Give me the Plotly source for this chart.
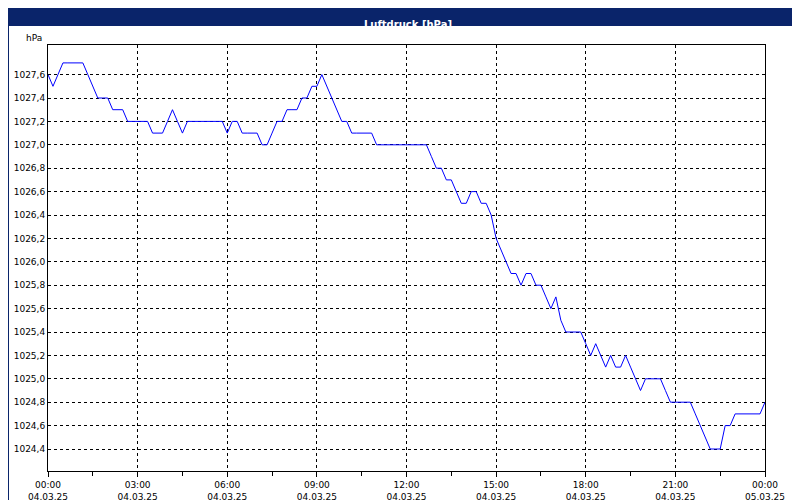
import pandas as pd
import plotly.graph_objects as go

# Luftdruck values, one reading every 10 minutes
times = pd.date_range("2025-03-04 00:00", periods=145, freq="10min")
pressure = [
    1027.6, 1027.5, 1027.6, 1027.7, 1027.7, 1027.7, 1027.7, 1027.7, 1027.6, 1027.5,
    1027.4, 1027.4, 1027.4, 1027.3, 1027.3, 1027.3, 1027.2, 1027.2, 1027.2, 1027.2,
    1027.2, 1027.1, 1027.1, 1027.1, 1027.2, 1027.3, 1027.2, 1027.1, 1027.2, 1027.2,
    1027.2, 1027.2, 1027.2, 1027.2, 1027.2, 1027.2, 1027.1, 1027.2, 1027.2, 1027.1,
    1027.1, 1027.1, 1027.1, 1027.0, 1027.0, 1027.1, 1027.2, 1027.2, 1027.3, 1027.3,
    1027.3, 1027.4, 1027.4, 1027.5, 1027.5, 1027.6, 1027.5, 1027.4, 1027.3, 1027.2,
    1027.2, 1027.1, 1027.1, 1027.1, 1027.1, 1027.1, 1027.0, 1027.0, 1027.0, 1027.0,
    1027.0, 1027.0, 1027.0, 1027.0, 1027.0, 1027.0, 1027.0, 1026.9, 1026.8, 1026.8,
    1026.7, 1026.7, 1026.6, 1026.5, 1026.5, 1026.6, 1026.6, 1026.5, 1026.5, 1026.4,
    1026.2, 1026.1, 1026.0, 1025.9, 1025.9, 1025.8, 1025.9, 1025.9, 1025.8, 1025.8,
    1025.7, 1025.6, 1025.7, 1025.5, 1025.4, 1025.4, 1025.4, 1025.4, 1025.3, 1025.2,
    1025.3, 1025.2, 1025.1, 1025.2, 1025.1, 1025.1, 1025.2, 1025.1, 1025.0, 1024.9,
    1025.0, 1025.0, 1025.0, 1025.0, 1024.9, 1024.8, 1024.8, 1024.8, 1024.8, 1024.8,
    1024.7, 1024.6, 1024.5, 1024.4, 1024.4, 1024.4, 1024.6, 1024.6, 1024.7, 1024.7,
    1024.7, 1024.7, 1024.7, 1024.7, 1024.8,
]

tick_times = pd.date_range("2025-03-04 00:00", periods=9, freq="3h")
tick_text = [t.strftime("%H:%M") + "<br>" + t.strftime("%d.%m.%y") for t in tick_times]
y_ticks = [round(1024.4 + 0.2 * i, 1) for i in range(17)]

fig = go.Figure()
fig.add_trace(go.Scatter(x=times, y=pressure, mode="lines",
                         line=dict(color="#0000ff", width=1), showlegend=False))

navy = "#0a246a"
fig.update_layout(
    width=800, height=500,
    margin=dict(l=40, r=43, t=37, b=37, autoexpand=False),
    paper_bgcolor="white", plot_bgcolor="white",
    separators=",.",
    font=dict(family="DejaVu Sans", size=9, color="black"),
    xaxis=dict(
        range=[tick_times[0], tick_times[-1]],
        tickvals=tick_times, ticktext=tick_text, automargin=False,
        ticks="outside", ticklen=5, tickcolor="black",
        minor=dict(dtick=5400000, ticks="outside", ticklen=4, tickcolor="black", showgrid=False),
        showgrid=True, gridcolor="black", griddash="3px,3px", gridwidth=1,
        showline=True, linecolor="black", mirror=True, zeroline=False,
    ),
    yaxis=dict(
        range=[1024.212, 1027.853], automargin=False,
        tickvals=y_ticks, tickformat=".1f",
        ticks="", showgrid=True, gridcolor="black", griddash="3px,3px", gridwidth=1,
        showline=True, linecolor="black", mirror=True, zeroline=False,
    ),
    shapes=[
        dict(type="rect", xref="paper", yref="paper", x0=-40 / 717, x1=760 / 717,
             y0=1.0446, y1=1.09, fillcolor=navy, line=dict(width=0), layer="below"),
        dict(type="rect", xref="paper", yref="paper", x0=-39.5 / 717, x1=759.5 / 717,
             y0=-36.5 / 426, y1=1.09, line=dict(color=navy, width=1)),
    ],
    annotations=[
        dict(text="<b>Luftdruck [hPa]</b>", xref="paper", yref="paper", x=360 / 717,
             y=1.066, showarrow=False, font=dict(color="white", size=10)),
        dict(text="hPa", xref="paper", yref="paper", x=-0.005, y=1.0, xanchor="right",
             yanchor="bottom", showarrow=False, font=dict(size=9)),
    ],
)

fig.write_html("out.html")
